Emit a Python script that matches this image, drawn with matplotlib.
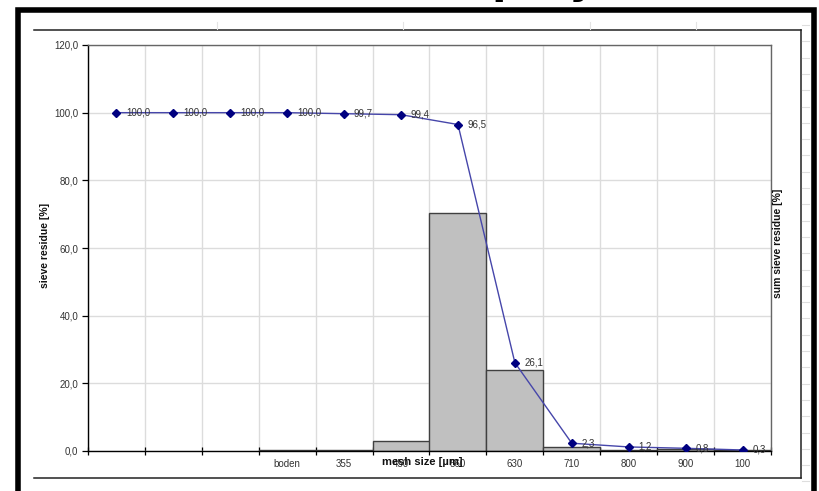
import matplotlib
matplotlib.use("Agg")
import matplotlib.pyplot as plt
from matplotlib.lines import Line2D
from matplotlib.patches import Rectangle

plt.rcParams['font.family'] = ['Liberation Sans', 'DejaVu Sans']

# ---- data -------------------------------------------------------------
categories = ["", "", "", "boden", "355", "450", "560", "630", "710", "800", "900", "100"]
bar_categories = ["boden", "355", "450", "560", "630", "710", "800", "900", "100"]
sieve_residue = [0.3, 0.3, 2.9, 70.4, 23.8, 1.1, 0.4, 0.5, 0.3]
sum_residue = [100.0, 100.0, 100.0, 100.0, 99.7, 99.4, 96.5, 26.1, 2.3, 1.2, 0.8, 0.3]
y_ticks = [0, 20, 40, 60, 80, 100, 120]

W, H = 819, 491
fig = plt.figure(figsize=(W / 100, H / 100), dpi=100)
fig.patch.set_facecolor("white")


def fx(x):
    return x / W


def fy(y):
    return 1 - y / H


# plot area
left, right, top, bottom = 88, 771, 45, 451
ax = fig.add_axes([fx(left), fy(bottom), fx(right) - fx(left), fy(top) - fy(bottom)])
ax.set_facecolor("white")

n = len(categories)
xs = list(range(n))
bar_x = [categories.index(c) for c in bar_categories]

ax.bar(bar_x, sieve_residue, width=1.0, align="center", color="#c0c0c0",
       edgecolor="#404040", linewidth=1.0, zorder=2)

ax.plot(xs, sum_residue, color="#4646aa", linewidth=1.0, marker="D",
        markersize=4.5, markerfacecolor="#000080", markeredgecolor="#000080", zorder=4)

for x, v in zip(xs, sum_residue):
    ax.annotate(f"{v:.1f}".replace(".", ","), (x, v), xytext=(7, 0),
                textcoords="offset points", ha="left", va="center",
                fontsize=7, color="#333333", zorder=5)

ax.set_xlim(-0.5, n - 0.5)
ax.set_ylim(0, 120)

# grid at category boundaries and value steps
ax.set_xticks([i - 0.5 for i in range(n + 1)])
ax.set_xticklabels([])
ax.set_xticks(xs, minor=True)
ax.set_xticklabels(categories, minor=True, fontsize=7, color="#333333")
ax.tick_params(axis="x", which="major", direction="inout", length=6, width=0.9, color="black")
ax.tick_params(axis="x", which="minor", length=0, pad=6)

ax.set_yticks(y_ticks)
ax.set_yticklabels([f"{v:.1f}".replace(".", ",") for v in y_ticks], fontsize=7, color="#333333")
ax.tick_params(axis="y", direction="out", length=4, width=0.9, color="black", pad=3)

ax.grid(True, which="major", color="#dcdcdc", linewidth=1.0, zorder=0)
ax.set_axisbelow(True)

ax.spines["left"].set_color("black")
ax.spines["bottom"].set_color("black")
ax.spines["top"].set_color("#666666")
ax.spines["right"].set_color("#666666")
for s in ax.spines.values():
    s.set_linewidth(1.0)
    s.set_zorder(3)

# axis titles
fig.text(fx(422), fy(462), "mesh size [µm]", ha="center", va="center",
         fontsize=8, fontweight="bold", color="#111111")
fig.text(fx(45), fy(245), "sieve residue [%]", ha="center", va="center",
         rotation=90, fontsize=7.5, fontweight="bold", color="#111111")
fig.text(fx(778), fy(243), "sum sieve residue [%]", ha="center", va="center",
         rotation=90, fontsize=7.5, fontweight="bold", color="#111111")

# chart frame (top, right, bottom)
frame_color = "#222222"
for (x0, y0, x1, y1) in [(34, 30, 801, 30), (801, 30, 801, 478), (34, 478, 801, 478)]:
    fig.add_artist(Line2D([fx(x0), fx(x1)], [fy(y0), fy(y1)], color=frame_color,
                          linewidth=1.1, transform=fig.transFigure))

# faint sheet grid marks outside the chart frame
y = 25.0
while y < H:
    fig.add_artist(Line2D([fx(802), fx(809)], [fy(y), fy(y)], color="#dedede",
                          linewidth=0.8, transform=fig.transFigure))
    y += 16.3
for x in [217, 403, 590, 696]:
    fig.add_artist(Line2D([fx(x), fx(x)], [fy(22), fy(29)], color="#e4e4e4",
                          linewidth=0.8, transform=fig.transFigure))

# heavy outer border
fig.add_artist(Rectangle((fx(17.5), fy(520)), fx(813.5) - fx(17.5), fy(9.5) - fy(520),
                         fill=False, edgecolor="black", linewidth=4.0,
                         transform=fig.transFigure))

# sheet heading, mostly above the top edge
fig.text(fx(596), 1 + 7 / H, "Sieve residue spray", ha="right", va="baseline",
         fontsize=30, fontweight="bold", color="black", family="DejaVu Sans")

fig.savefig("out.png", dpi=100)
